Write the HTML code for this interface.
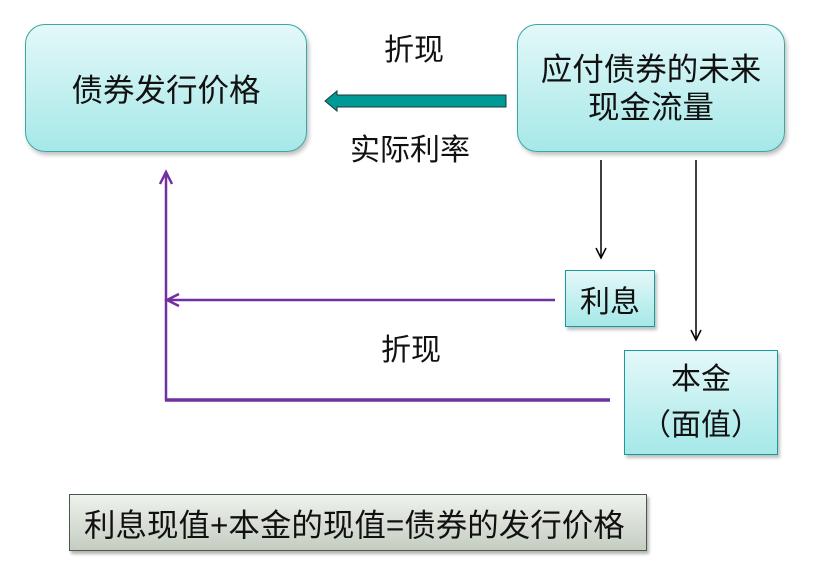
<!DOCTYPE html>
<html><head><meta charset="utf-8"><style>
body{margin:0;width:816px;height:571px;background:#fff;position:relative;overflow:hidden;font-family:"Liberation Sans","Noto Sans CJK SC",sans-serif;color:#111}
.b{position:absolute;box-sizing:border-box;background:linear-gradient(#e4f8f9,#a6e8e8);display:flex;align-items:center;justify-content:center;text-align:center}
.r{border:1.5px solid #3aa6a6;border-radius:20px;box-shadow:2px 3px 4px rgba(0,0,0,.25)}
.s{border:1.5px solid #1a9b9b;box-shadow:2px 3px 3px rgba(0,0,0,.25)}
.t{position:absolute;font-size:30px;line-height:32px;white-space:nowrap}
</style></head><body>
<div class="b r" style="left:25px;top:24px;width:282px;height:128px;font-size:31.5px">债券发行价格</div>
<div class="b r" style="left:517px;top:24px;width:268px;height:128px;font-size:31.5px;line-height:38px">应付债券的未来<br>现金流量</div>
<div class="b s" style="left:565px;top:270px;width:90px;height:57px;font-size:30px">利息</div>
<div class="b s" style="left:624px;top:350px;width:154px;height:105px;font-size:30px;line-height:46px">本金<br>（面值）</div>
<div class="b" style="left:69px;top:494px;width:578px;height:57px;border:1.5px solid #4a5a4a;background:linear-gradient(#eef2ec,#c5cdc2);box-shadow:2px 3px 3px rgba(0,0,0,.3);font-size:31.5px;justify-content:flex-start;padding-left:14px;white-space:nowrap">利息现值+本金的现值=债券的发行价格</div>
<div class="t" style="left:384px;top:35px">折现</div>
<div class="t" style="left:350px;top:135px">实际利率</div>
<div class="t" style="left:381px;top:335px">折现</div>
<svg width="816" height="571" style="position:absolute;left:0;top:0">
<polygon points="325,101 337,91 337,95 506,95 506,107 337,107 337,111" fill="#009a96" stroke="#1a3a3a" stroke-width="1"/>
<g stroke="#000" stroke-width="1.5" fill="none">
<line x1="601" y1="160" x2="601" y2="258"/><polyline points="596,248 601,258 606,248"/>
<line x1="696" y1="160" x2="696" y2="340"/><polyline points="691,330 696,340 701,330"/>
</g>
<g stroke="#7030a0" fill="none">
<line x1="166" y1="172" x2="166" y2="401" stroke-width="2.5"/>
<polyline points="160,184 166,172 172,184" stroke-width="2.5"/>
<line x1="167" y1="300" x2="555" y2="300" stroke-width="2.5"/>
<polyline points="179,294 167,300 179,306" stroke-width="2.5"/>
<line x1="165" y1="400" x2="610" y2="400" stroke-width="3.5"/>
</g>
</svg>
</body></html>
